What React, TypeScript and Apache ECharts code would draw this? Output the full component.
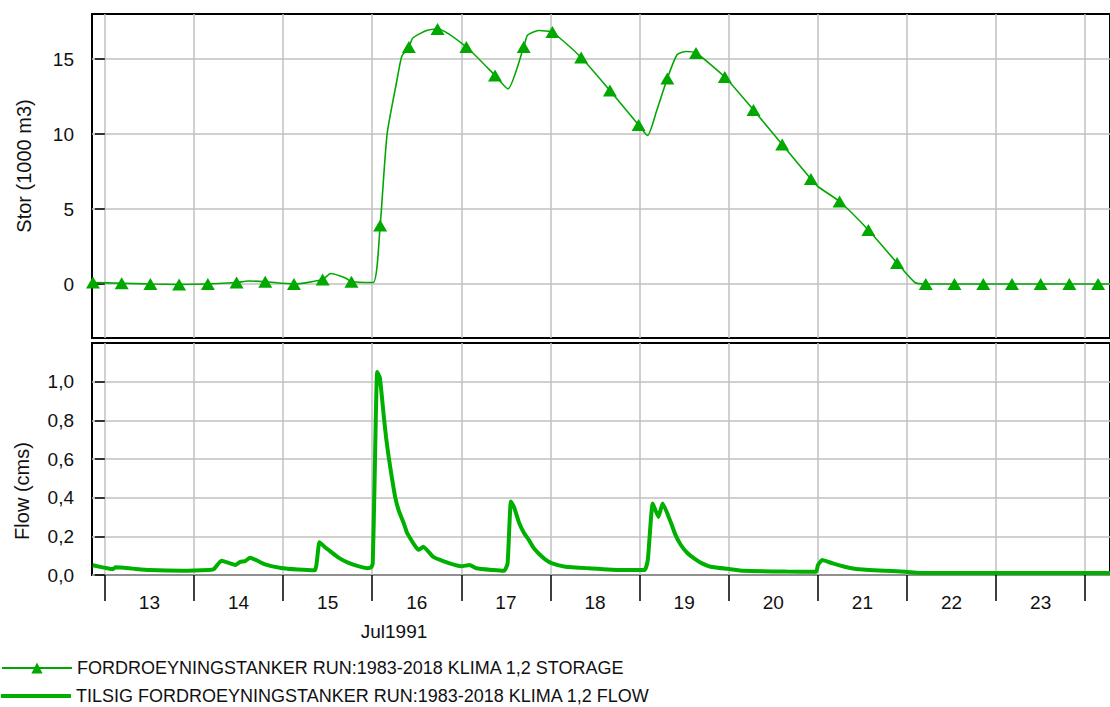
import React, { useEffect, useRef } from "react";
import * as echarts from "echarts";

// x values are days counted from 13 Jul 1991 00:00
const dayTicks = [0, 1, 2, 3, 4, 5, 6, 7, 8, 9, 10, 11];
const dayLabelPos = [0.5, 1.5, 2.5, 3.5, 4.5, 5.5, 6.5, 7.5, 8.5, 9.5, 10.5];
const dayLabels = ["13", "14", "15", "16", "17", "18", "19", "20", "21", "22", "23"];
const monthLabel = "Jul1991";

const storTicks = [0, 5, 10, 15];
const flowTicks = [0, 0.2, 0.4, 0.6, 0.8, 1.0];

const storName = "FORDROEYNINGSTANKER RUN:1983-2018 KLIMA 1,2 STORAGE";
const flowName = "TILSIG FORDROEYNINGSTANKER RUN:1983-2018 KLIMA 1,2 FLOW";

// storage (1000 m3) at marker points
const storMarkDays = [
  -0.133, 0.189, 0.511, 0.833, 1.156, 1.478, 1.8, 2.122, 2.444, 2.767, 3.089, 3.411,
  3.733, 4.056, 4.378, 4.7, 5.022, 5.344, 5.667, 5.989, 6.311, 6.633, 6.956, 7.278,
  7.6, 7.922, 8.244, 8.567, 8.889, 9.211, 9.533, 9.856, 10.178, 10.5, 10.822, 11.144,
];
const storMarkValues = [
  0.1, 0.05, 0.0, -0.03, 0.0, 0.1, 0.15, 0.0, 0.3, 0.15, 3.9, 15.8,
  17.0, 15.8, 13.9, 15.8, 16.8, 15.1, 12.9, 10.6, 13.7, 15.4, 13.8, 11.6,
  9.3, 7.0, 5.5, 3.6, 1.4, 0.0, 0.0, 0.0, 0.0, 0.0, 0.0, 0.0,
];
// storage at intermediate points (curve shape, no marker)
const storShapeDays = [
  1.611, 2.533, 2.7, 3.011, 3.167, 3.278, 3.333, 3.456, 3.611, 4.522, 4.744, 4.867,
  4.978, 6.089, 6.189, 6.422, 6.522, 8.0, 9.089, 11.3,
];
const storShapeValues = [
  0.2, 0.7, 0.4, 0.1, 10.0, 13.6, 15.2, 16.4, 16.9, 13.0, 16.6, 16.9,
  16.85, 9.9, 11.5, 15.3, 15.5, 6.5, 0.1, 0.0,
];

// flow (cms)
const flowDays = [
  -0.137, 0.056, 0.089, 0.122, 0.311, 0.5, 0.867, 1.167, 1.222, 1.308, 1.463, 1.519,
  1.574, 1.63, 1.797, 1.978, 2.167, 2.356, 2.408, 2.467, 2.537, 2.622, 2.722, 2.833,
  2.944, 2.989, 3.006, 3.026, 3.056, 3.086, 3.13, 3.156, 3.185, 3.222, 3.259, 3.3,
  3.352, 3.389, 3.426, 3.467, 3.519, 3.574, 3.685, 3.87, 4.0, 4.093, 4.167, 4.352,
  4.481, 4.519, 4.556, 4.592, 4.648, 4.7, 4.759, 4.811, 4.87, 4.944, 5.019, 5.167,
  5.426, 5.796, 6.056, 6.092, 6.148, 6.211, 6.259, 6.352, 6.4, 6.463, 6.533, 6.611,
  6.7, 6.796, 7.019, 7.167, 7.644, 7.981, 8.0, 8.048, 8.167, 8.3, 8.463, 8.981,
  9.2, 11.3,
];
const flowValues = [
  0.05, 0.032, 0.03, 0.04, 0.033, 0.026, 0.022, 0.026, 0.03, 0.074, 0.052, 0.068,
  0.072, 0.089, 0.055, 0.036, 0.028, 0.024, 0.17, 0.145, 0.12, 0.09, 0.065, 0.047,
  0.035, 0.04, 0.06, 0.47, 1.05, 1.02, 0.82, 0.71, 0.61, 0.5, 0.4, 0.33,
  0.27, 0.22, 0.19, 0.16, 0.13, 0.146, 0.094, 0.06, 0.045, 0.052, 0.035, 0.026,
  0.022, 0.06, 0.38, 0.35, 0.27, 0.22, 0.18, 0.14, 0.11, 0.08, 0.06, 0.043,
  0.035, 0.026, 0.026, 0.077, 0.37, 0.3, 0.37, 0.27, 0.21, 0.155, 0.115, 0.086,
  0.06, 0.043, 0.03, 0.022, 0.018, 0.017, 0.05, 0.077, 0.06, 0.043, 0.03, 0.017,
  0.01, 0.01,
];

const FONT = "'Liberation Sans', Arial, sans-serif";
const GREEN_S = "#00a800";
const GREEN_F = "#00b000";
const GRIDLINE = "#c0c0c0";

export default function App() {
  const ref = useRef<HTMLDivElement>(null);

  useEffect(() => {
    if (!ref.current) return;
    const chart = echarts.init(ref.current, undefined, { renderer: "svg" });

    const storData: any[] = [];
    storMarkDays.forEach((d, i) => storData.push({ value: [d, storMarkValues[i]] }));
    storShapeDays.forEach((d, i) =>
      storData.push({ value: [d, storShapeValues[i]], symbol: "none" })
    );
    storData.sort((a, b) => a.value[0] - b.value[0]);

    const flowData = flowDays.map((d, i) => [d, flowValues[i]]);

    const xMin = -0.144;
    const xMax = 11.278;

    const xBase = (gridIndex: number, withLabels: boolean) => ({
      type: "value",
      gridIndex,
      min: xMin,
      max: xMax,
      axisLine: { show: false },
      axisTick: {
        show: withLabels,
        customValues: dayTicks,
        length: 26,
        lineStyle: { color: "#000", width: 1.5 },
      },
      axisLabel: {
        show: withLabels,
        customValues: dayLabelPos,
        formatter: (v: number) => dayLabels[Math.floor(v)] ?? "",
        margin: 18,
        fontSize: 19,
        color: "#111",
        fontFamily: FONT,
      },
      splitLine: { show: true, lineStyle: { color: GRIDLINE, width: 1.5 } },
    });

    const option: any = {
      animation: false,
      textStyle: { fontFamily: FONT },
      grid: [
        { left: 92, top: 14, right: -10, height: 324, show: true, borderColor: "#000", borderWidth: 2, backgroundColor: "transparent" },
        { left: 92, top: 343, right: -10, height: 232, show: true, borderColor: "#000", borderWidth: 2, backgroundColor: "transparent" },
      ],
      xAxis: [xBase(0, false), xBase(1, true)],
      yAxis: [
        {
          type: "value",
          gridIndex: 0,
          min: -3.6,
          max: 18,
          axisLine: { show: false },
          axisTick: { show: true, customValues: storTicks, length: 10, lineStyle: { color: "#000", width: 1.5 } },
          axisLabel: { customValues: storTicks, margin: 18, fontSize: 19, color: "#111", fontFamily: FONT },
          splitLine: { show: true, lineStyle: { color: GRIDLINE, width: 1.5 } },
        },
        {
          type: "value",
          gridIndex: 1,
          min: 0,
          max: 1.2,
          axisLine: { show: false },
          axisTick: { show: true, customValues: flowTicks, length: 10, lineStyle: { color: "#000", width: 1.5 } },
          axisLabel: {
            customValues: flowTicks,
            margin: 18,
            fontSize: 19,
            color: "#111",
            fontFamily: FONT,
            formatter: (v: number) => v.toFixed(1).replace(".", ","),
          },
          splitLine: { show: true, lineStyle: { color: GRIDLINE, width: 1.5 } },
        },
      ],
      legend: [
        {
          data: [storName],
          left: 1,
          top: 659,
          padding: 0,
          itemWidth: 70,
          itemHeight: 14,
          textStyle: { fontSize: 18, color: "#111", fontFamily: FONT },
        },
        {
          data: [{ name: flowName, icon: "rect" }],
          left: 1,
          top: 687,
          padding: 0,
          itemWidth: 70,
          itemHeight: 4,
          textStyle: { fontSize: 18, color: "#111", fontFamily: FONT },
        },
      ],
      graphic: [
        {
          type: "text",
          x: 24,
          y: 166,
          rotation: Math.PI / 2,
          style: { text: "Stor (1000 m3)", fontSize: 20, fill: "#111", fontFamily: FONT, textAlign: "center", textVerticalAlign: "middle" },
        },
        {
          type: "text",
          x: 22,
          y: 491,
          rotation: Math.PI / 2,
          style: { text: "Flow (cms)", fontSize: 20, fill: "#111", fontFamily: FONT, textAlign: "center", textVerticalAlign: "middle" },
        },
        {
          type: "text",
          x: 394,
          y: 631,
          style: { text: monthLabel, fontSize: 19, fill: "#111", fontFamily: FONT, textAlign: "center", textVerticalAlign: "middle" },
        },
      ],
      series: [
        {
          name: storName,
          type: "line",
          xAxisIndex: 0,
          yAxisIndex: 0,
          data: storData,
          symbol: "triangle",
          symbolSize: [14, 12],
          showAllSymbol: true,
          smooth: 0.2,
          lineStyle: { color: GREEN_S, width: 1.6 },
          itemStyle: { color: GREEN_S },
          clip: true,
          z: 3,
        },
        {
          name: flowName,
          type: "line",
          xAxisIndex: 1,
          yAxisIndex: 1,
          data: flowData,
          symbol: "none",
          smooth: 0.15,
          lineStyle: { color: GREEN_F, width: 4 },
          itemStyle: { color: GREEN_F },
          clip: true,
          z: 3,
        },
      ],
    };

    chart.setOption(option);
    return () => chart.dispose();
  }, []);

  return (
    <div
      ref={ref}
      style={{ position: "fixed", left: 0, top: 0, width: 1110, height: 707, background: "#fff" }}
    />
  );
}
